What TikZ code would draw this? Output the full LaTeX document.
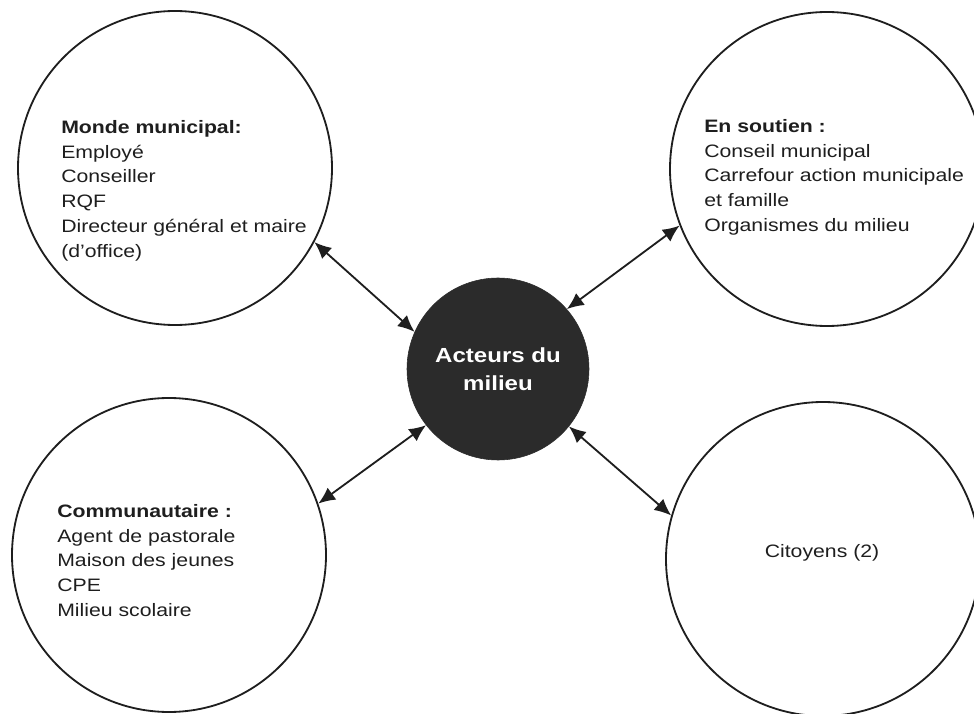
\documentclass[tikz,border=0pt]{standalone}
\usepackage{fontspec}
\setmainfont{Liberation Sans}[FakeStretch=1.18]
\usetikzlibrary{arrows.meta}

\definecolor{hubfill}{HTML}{2B2B2B}
\definecolor{inkline}{HTML}{1E1E1E}

\tikzset{
	pole/.style = {draw = inkline, line width = 1.3pt, shape = circle,
				   minimum size = 7.85cm, inner sep = 0pt},
	hub/.style = {draw = hubfill, fill = hubfill, shape = circle,
				  minimum size = 4.55cm, inner sep = 0pt,
				  text = white, align = center,
				  font = \fontsize{14.5pt}{20pt}\selectfont\bfseries},
	listing/.style = {inner sep = 0pt, align = left, text = inkline,
					  font = \fontsize{12.8pt}{17.6pt}\selectfont},
	link/.style = {inkline, line width = 1.3pt,
				   {Latex[length=4.2mm, width=3.7mm]}-{Latex[length=4.2mm, width=3.7mm]}}
}

\begin{document}
\begin{tikzpicture}

	\useasboundingbox (0,0) rectangle (24.35,17.825);

	\draw (12.45,8.6) node[hub] (Acteurs) {Acteurs du\\milieu};

	\draw (4.375,13.625) node[pole] (Municipal) {};
	\draw (20.675,13.6) node[pole] (Soutien) {};
	\draw (4.225,3.95) node[pole] (Communaute) {};
	\draw (20.575,3.85) node[pole] (Citoyens) {};

	\draw (1.525,14.825) node[listing, anchor = north west] (MunicipalTxt)
		{\textbf{Monde municipal:}\\Employé\\Conseiller\\RQF\\
		 Directeur général et maire\\(d’office)};

	\draw (17.6,14.85) node[listing, anchor = north west] (SoutienTxt)
		{\textbf{En soutien :}\\Conseil municipal\\
		 Carrefour action municipale\\et famille\\Organismes du milieu};

	\draw (1.425,5.225) node[listing, anchor = north west] (CommunauteTxt)
		{\textbf{Communautaire :}\\Agent de pastorale\\Maison des jeunes\\
		 CPE\\Milieu scolaire};

	\draw (20.55,3.9) node[listing, anchor = base] (CitoyensTxt) {Citoyens (2)};

	\draw[link] (Municipal.-28) -- (Acteurs.156.3);
	\draw[link] (Soutien.-159.5) -- (Acteurs.41.8);
	\draw[link] (Communaute.19.9) -- (Acteurs.-142);
	\draw[link] (Citoyens.164.3) -- (Acteurs.-39.4);
\end{tikzpicture}
\end{document}
